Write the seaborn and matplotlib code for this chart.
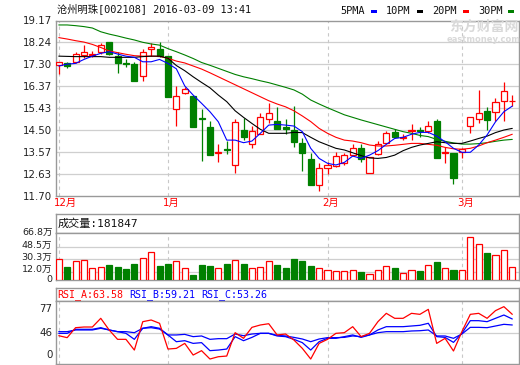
import matplotlib
matplotlib.use("Agg")
import matplotlib.pyplot as plt
from matplotlib.patches import Rectangle
from matplotlib.transforms import offset_copy
import seaborn as sns
import numpy as np

# ---- data ----
opens = [17.27, 17.36, 17.38, 17.71, 17.71, 17.81, 18.24, 17.67, 17.37, 17.31,
         16.80, 17.97, 17.95, 17.65, 15.38, 16.06, 15.95, 15.00, 14.63, 13.53,
         13.70, 12.99, 14.50, 13.89, 14.33, 14.95, 14.88, 14.64, 14.50, 13.93,
         13.28, 12.14, 12.88, 12.96, 13.11, 13.43, 13.75, 12.68, 13.48, 13.96,
         14.40, 14.14, 14.44, 14.50, 14.44, 14.90, 13.50, 13.50, 13.55, 14.68,
         14.95, 15.31, 15.25, 15.74, 15.72]
closes = [17.38, 17.24, 17.73, 17.81, 17.74, 18.14, 17.74, 17.34, 17.30, 16.60,
          17.84, 18.03, 17.65, 15.92, 15.96, 16.25, 14.64, 14.95, 13.45, 13.56,
          13.66, 14.84, 14.19, 14.46, 15.04, 15.21, 14.53, 14.53, 14.00, 13.50,
          12.14, 12.88, 13.01, 13.38, 13.42, 13.72, 13.25, 13.33, 13.92, 14.36,
          14.19, 14.19, 14.49, 14.46, 14.68, 13.29, 13.55, 12.47, 13.68, 15.04,
          15.21, 14.93, 15.68, 16.16, 15.75]
highs = [17.40, 17.38, 17.84, 18.12, 17.88, 18.20, 18.25, 17.84, 17.51, 17.38,
         17.94, 18.22, 18.24, 17.65, 16.38, 16.35, 15.95, 15.40, 14.88, 13.89,
         14.03, 14.95, 15.00, 14.68, 15.21, 15.64, 15.47, 14.95, 15.52, 14.17,
         13.53, 13.11, 13.15, 13.58, 13.53, 13.90, 13.90, 13.36, 14.03, 14.47,
         14.53, 14.33, 14.76, 14.64, 14.90, 14.97, 13.79, 13.50, 13.72, 15.06,
         16.21, 15.47, 15.88, 16.56, 15.98]
lows = [16.87, 17.16, 17.34, 17.55, 17.60, 17.74, 17.72, 16.92, 17.17, 16.60,
        16.60, 17.64, 17.63, 15.92, 14.68, 16.02, 14.64, 13.19, 13.45, 13.14,
        13.46, 12.68, 14.07, 13.72, 14.33, 14.81, 14.53, 14.33, 13.76, 12.75,
        12.14, 11.91, 12.61, 12.94, 13.01, 13.39, 13.15, 12.68, 13.43, 13.93,
        14.19, 14.07, 14.07, 14.22, 14.36, 13.29, 13.08, 12.18, 13.32, 14.36,
        14.81, 14.50, 14.90, 14.90, 15.52]

ma5 = [17.23, 17.31, 17.34, 17.51, 17.65, 17.77, 17.84, 17.74, 17.65, 17.60,
       17.41, 17.41, 17.51, 17.34, 17.11, 16.38, 15.99, 15.64, 15.28, 14.85,
       14.07, 14.07, 13.96, 14.03, 14.36, 14.71, 14.74, 14.71, 14.67, 14.43,
       13.72, 13.29, 13.08, 13.01, 13.12, 13.39, 13.29, 13.43, 13.62, 13.89,
       14.14, 14.19, 14.32, 14.40, 14.40, 14.24, 14.00, 13.72, 13.55, 13.55,
       13.86, 14.29, 14.85, 15.28, 15.52]
ma10 = [17.65, 17.64, 17.63, 17.63, 17.63, 17.63, 17.60, 17.60, 17.60, 17.60,
        17.63, 17.65, 17.65, 17.56, 17.25, 17.03, 16.77, 16.53, 16.30, 15.99,
        15.71, 15.32, 15.04, 14.78, 14.53, 14.36, 14.36, 14.36, 14.40, 14.39,
        14.19, 14.00, 13.86, 13.72, 13.65, 13.53, 13.41, 13.31, 13.29, 13.33,
        13.43, 13.62, 13.76, 13.86, 13.93, 14.00, 13.96, 13.93, 13.93, 14.03,
        14.14, 14.24, 14.39, 14.50, 14.57]
ma20 = [18.44, 18.38, 18.31, 18.25, 18.15, 18.02, 17.87, 17.80, 17.73, 17.67,
        17.65, 17.65, 17.64, 17.56, 17.44, 17.36, 17.23, 17.10, 16.94, 16.77,
        16.60, 16.43, 16.26, 16.09, 15.92, 15.75, 15.61, 15.49, 15.32, 15.10,
        14.86, 14.57, 14.36, 14.19, 14.07, 14.03, 13.96, 13.86, 13.82, 13.82,
        13.85, 13.89, 13.93, 13.93, 13.89, 13.85, 13.76, 13.70, 13.68, 13.72,
        13.82, 13.96, 14.07, 14.19, 14.32]
ma30 = [18.98, 18.98, 18.95, 18.91, 18.85, 18.69, 18.59, 18.51, 18.42, 18.34,
        18.24, 18.17, 18.12, 17.97, 17.84, 17.70, 17.55, 17.38, 17.26, 17.13,
        17.00, 16.87, 16.77, 16.69, 16.60, 16.52, 16.42, 16.32, 16.21, 16.03,
        15.78, 15.61, 15.45, 15.30, 15.15, 15.04, 14.93, 14.83, 14.73, 14.63,
        14.53, 14.43, 14.36, 14.27, 14.22, 14.10, 14.02, 13.95, 13.90, 13.90,
        13.92, 13.96, 14.02, 14.07, 14.10]

# volume in 万
volume = [30.3, 18.3, 27.2, 28.8, 17.8, 19.4, 21.4, 18.3, 15.6, 23.0,
          31.9, 41.3, 19.8, 23.0, 27.2, 16.7, 7.3, 21.4, 19.8, 17.8,
          23.0, 28.8, 23.0, 16.7, 18.3, 27.2, 21.4, 16.7, 30.8, 27.7,
          19.8, 16.7, 15.1, 13.6, 13.6, 15.1, 12.0, 8.9, 15.1, 19.8,
          16.7, 10.4, 15.1, 13.6, 21.4, 26.1, 16.7, 15.1, 15.1, 61.7,
          52.3, 38.6, 36.6, 43.3, 18.2]

rsi_a = [42.0, 39.1, 53.9, 54.9, 54.9, 67.8, 50.5, 36.6, 36.6, 20.7,
         62.8, 65.3, 60.4, 22.2, 23.2, 30.6, 13.3, 19.8, 7.4, 10.8,
         11.8, 46.5, 38.1, 54.4, 57.9, 59.8, 43.1, 44.5, 35.6, 23.2,
         7.4, 30.6, 36.6, 45.5, 46.5, 55.4, 40.6, 45.5, 62.8, 75.2,
         67.8, 67.8, 75.2, 73.7, 81.1, 30.6, 38.1, 19.3, 48.0, 73.7,
         75.2, 67.8, 79.2, 85.1, 73.7]
rsi_b = [45.5, 45.5, 51.5, 51.5, 51.5, 53.9, 50.5, 48.0, 45.5, 36.6,
         53.0, 55.4, 53.0, 43.1, 33.1, 34.6, 30.6, 31.7, 19.8, 20.7,
         22.2, 40.6, 34.6, 39.5, 45.5, 45.5, 41.6, 40.6, 36.6, 31.7,
         20.7, 33.1, 38.1, 38.1, 40.6, 43.1, 39.5, 43.1, 50.5, 55.4,
         55.4, 55.4, 56.4, 57.4, 60.4, 40.6, 39.5, 32.1, 45.5, 64.3,
         64.3, 62.8, 67.8, 72.7, 66.8]
rsi_c = [48.0, 48.0, 50.5, 50.5, 50.5, 53.0, 50.5, 48.0, 48.0, 46.5,
         53.0, 53.9, 51.9, 43.1, 43.1, 44.0, 40.6, 41.6, 36.6, 37.6,
         37.6, 44.5, 42.0, 44.5, 45.5, 45.5, 42.5, 41.6, 39.5, 37.1,
         33.1, 37.1, 39.1, 39.1, 39.5, 41.6, 40.6, 43.1, 46.5, 48.0,
         48.0, 48.0, 49.0, 49.4, 50.5, 41.6, 41.6, 38.1, 44.5, 54.4,
         54.4, 53.9, 56.4, 58.9, 57.9]

month_labels = ["12月", "1月", "2月", "3月"]
month_start = [0, 13, 32, 48]          # first bar of each month
price_ticks = [11.70, 12.63, 13.57, 14.50, 15.43, 16.37, 17.30, 18.24, 19.17]
vol_ticks = [0, 12.0, 30.3, 48.5, 66.8]
vol_labels = ["0", "12.0万", "30.3万", "48.5万", "66.8万"]
rsi_ticks = [0, 46, 77]

UP, DOWN = "#ff0000", "#008000"
GRID, FRAME = "#cfcfcf", "#999999"

sns.set_style("white")
plt.rcParams["font.family"] = ["DejaVu Sans", "Noto Sans CJK SC"]
MONO = ["DejaVu Sans Mono", "Noto Sans CJK SC"]

W, H = 520, 365
fig = plt.figure(figsize=(W / 100, H / 100), dpi=100)


def px_axes(x0, y0, x1, y1):
    ax = fig.add_axes([x0 / W, 1 - y1 / H, (x1 - x0) / W, (y1 - y0) / H])
    for s in ax.spines.values():
        s.set_color(FRAME)
        s.set_linewidth(1.0)
    ax.set_xticks([])
    ax.tick_params(length=0, pad=2.5, labelsize=7.4, colors="#222222")
    return ax


def side_labels(ax, ticks, labels, nudges, size=7.0):
    # y labels drawn as text so the crowded ones can be nudged a little
    ax.set_yticks([])
    for t, lab, dy in zip(ticks, labels, nudges):
        tr = offset_copy(ax.get_yaxis_transform(), fig=fig, x=-2.6, y=dy, units="points")
        ax.text(0, t, lab, transform=tr, ha="right", va="center",
                fontsize=size, color="#222222", clip_on=False)


idx = np.arange(len(opens))
up = [c >= o for o, c in zip(opens, closes)]
colors = [UP if u else DOWN for u in up]
faces = ["white" if u else DOWN for u in up]
xlim = (-0.33, 54.8)

# ---- main candlestick panel ----
ax = px_axes(56, 20.5, 519, 195.7)
ax.set_xlim(*xlim)
ax.set_ylim(11.70, 19.17)
ax.set_yticks(price_ticks)
ax.set_yticklabels([f"{t:.2f}" for t in price_ticks])
for t in price_ticks[1:-1]:
    ax.axhline(t, color=GRID, lw=0.9, zorder=0)
for m in month_start:
    ax.axvline(m, color="#c8c8c8", lw=0.8, ls=(0, (3, 3)), zorder=0)

ax.vlines(idx, lows, highs, colors=colors, lw=0.9, zorder=2)
body_h = [max(abs(c - o), 0.025) for o, c in zip(opens, closes)]
body_b = [min(o, c) for o, c in zip(opens, closes)]
ax.bar(idx, body_h, bottom=body_b, width=0.72, color=faces,
       edgecolor=colors, linewidth=0.9, zorder=3)

for vals, col in [(ma30, "#008000"), (ma20, "#ff0000"), (ma10, "#000000"), (ma5, "#0000ff")]:
    sns.lineplot(x=idx, y=vals, ax=ax, color=col, lw=0.8, legend=False,
                 estimator=None, sort=False, zorder=4)
ax.set_xlabel("")
ax.set_ylabel("")

for lab, m in zip(month_labels, month_start):
    ax.text(m - 0.6, -0.042, lab, transform=ax.get_xaxis_transform(),
            ha="left", va="center", color="#ff0000", fontsize=7.4, clip_on=False)

# watermark
fig.text(484 / W, 1 - 27 / H, "东方财富网", ha="center", va="center",
         fontsize=10, color="#d9d9d9", fontweight="bold", family=["Noto Sans CJK SC"])
fig.text(484 / W, 1 - 40 / H, "eastmoney.com", ha="center", va="center",
         fontsize=6, color="#d9d9d9", fontweight="bold")

# title and legend
fig.text(57 / W, 1 - 9 / H, "沧州明珠[002108] 2016-03-09 13:41", ha="left",
         va="center", fontsize=7.4, color="#111111", family=MONO)
leg = [("5PMA", 340, 371, "#0000ff"), ("10PM", 386, 417, "#000000"),
       ("20PM", 432, 463, "#ff0000"), ("30PM", 478, 508, "#008000")]
for name, tx, bx, col in leg:
    fig.text(tx / W, 1 - 10.5 / H, name, ha="left", va="center",
             fontsize=7.4, color="#111111", family=MONO)
    fig.add_artist(Rectangle((bx / W, 1 - 12.5 / H), 5.5 / W, 3 / H,
                             transform=fig.transFigure, color=col, lw=0))

# ---- volume panel ----
axh = px_axes(56, 214, 519, 232.5)
axh.set_yticks([])
axh.text(2 / 463, 0.5, "成交量:181847", transform=axh.transAxes, ha="left",
         va="center", fontsize=8, color="#111111", family=MONO)

axv = px_axes(56, 232.5, 519, 280)
axv.set_xlim(*xlim)
axv.set_ylim(0, 68.9)
side_labels(axv, vol_ticks, vol_labels, [0, 2.0, 1.2, 0.8, 0.9], size=6.8)
for t in vol_ticks[1:-1]:
    axv.axhline(t, color=GRID, lw=0.9, zorder=0)
for m in month_start:
    axv.axvline(m, color="#c8c8c8", lw=0.8, ls=(0, (3, 3)), zorder=0)
axv.bar(idx, volume, width=0.72, color=faces, edgecolor=colors, linewidth=0.9, zorder=3)

# ---- RSI panel ----
axr_h = px_axes(56, 287.5, 519, 301)
axr_h.set_yticks([])
for txt, x0, col in [("RSI_A:63.58", 1, UP), ("RSI_B:59.21", 73, "#0000ff"),
                     ("RSI_C:53.26", 145, "#0000ff")]:
    axr_h.text(x0 / 463, 0.45, txt, transform=axr_h.transAxes, ha="left",
               va="center", fontsize=7.2, color=col, family=MONO)

axr = px_axes(56, 301, 519, 364)
axr.set_xlim(*xlim)
axr.set_ylim(0, 93.5)
side_labels(axr, rsi_ticks, [str(t) for t in rsi_ticks], [6.5, 0, 2.0], size=7.4)
axr.axhline(46, color=GRID, lw=0.9, zorder=0)
for m in month_start:
    axr.axvline(m, color="#c8c8c8", lw=0.8, ls=(0, (3, 3)), zorder=0)
for vals, col in [(rsi_c, "#0000ff"), (rsi_b, "#0000ff"), (rsi_a, "#ff0000")]:
    sns.lineplot(x=idx, y=vals, ax=axr, color=col, lw=0.9, legend=False,
                 estimator=None, sort=False, zorder=3)
axr.set_xlabel("")
axr.set_ylabel("")

fig.savefig("out.png", dpi=100, facecolor="white")
